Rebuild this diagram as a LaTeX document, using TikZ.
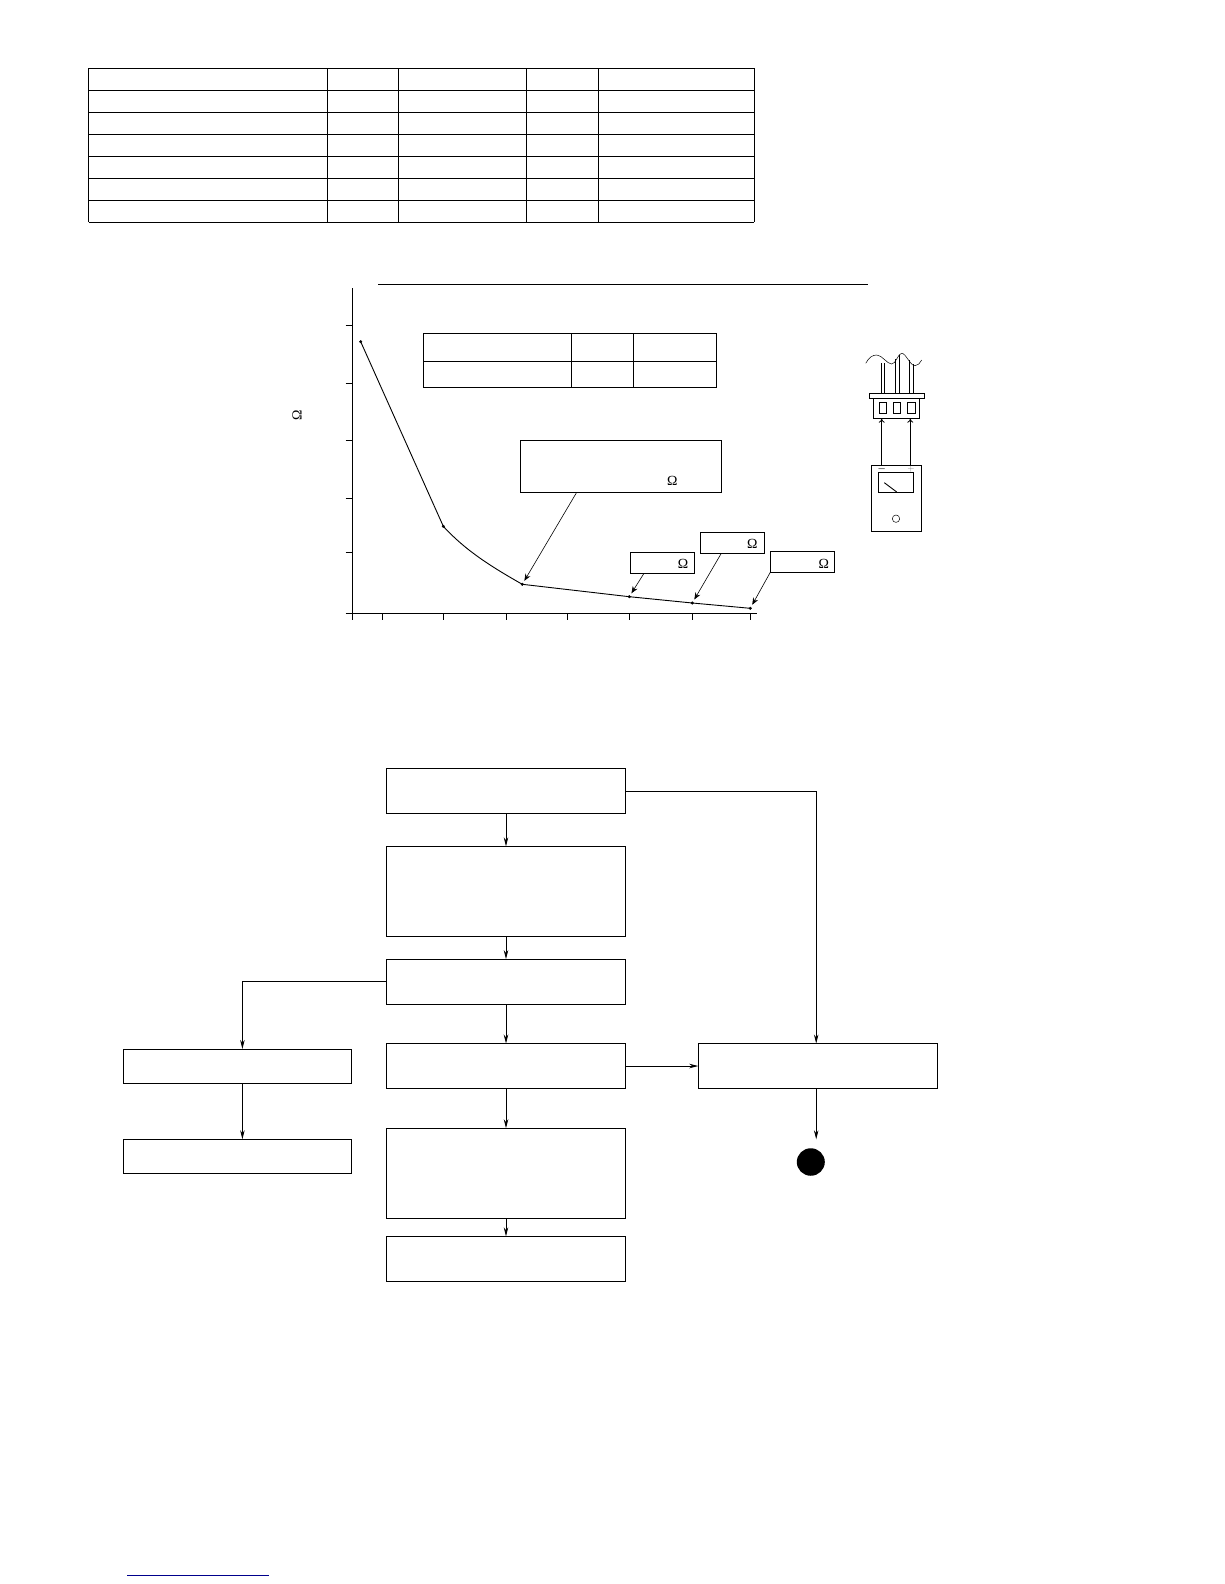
\documentclass[tikz,border=0pt]{standalone}
\usepackage{amssymb}
\usepackage{fontspec}
\newfontfamily\ohmfont{Liberation Serif}
\usetikzlibrary{arrows.meta,shapes.geometric}
\definecolor{linkblue}{rgb}{0,0,0.55}
\tikzset{
	flowbox/.style={draw=black, line width=0.9bp, inner sep=0pt, outer sep=0pt, minimum width=239bp, minimum height=45bp},
	tallbox/.style={flowbox, minimum height=90bp},
	sidebox/.style={flowbox, minimum width=228bp, minimum height=34.5bp},
	valuebox/.style={draw=black, line width=0.9bp, inner sep=0pt, outer sep=0pt, minimum width=64bp, minimum height=21bp},
	flowarrow/.style={black, line width=0.8bp, -{Stealth[length=9bp,width=4.5bp]}},
	callarrow/.style={black, line width=0.6bp, -{Stealth[length=7bp,width=5.5bp]}, shorten >=4bp},
	ohm/.style={inner sep=0pt, font=\ohmfont\fontsize{14}{14}\selectfont}
}
\begin{document}
\begin{tikzpicture}[x=1bp, y=-1bp]
	\useasboundingbox (0,0) rectangle (1224,1584);
	% table at the top
	\foreach \ypos in {68.5,90.5,112.5,134.5,156.5,178.5,200.5,222.3}
		\draw[black, line width=1bp] (88.5,\ypos) -- (754,\ypos);
	\foreach \xpos in {88.5,327,398,526,598,754}
		\draw[black, line width=1bp] (\xpos,68.5) -- (\xpos,222.3);
	% chart
	\draw[black, line width=0.9bp] (378.3,284.3) -- (867.8,284.3);
	\draw[black, line width=0.9bp] (352.3,288) -- (352.3,620);
	\draw[black, line width=0.9bp] (345.7,613.3) -- (757,613.3);
	\foreach \ypos in {325.3,383.3,440.3,498.3,552.3}
		\draw[black, line width=0.9bp] (345.7,\ypos) -- (352.3,\ypos);
	\foreach \xpos in {382.3,443.3,506.7,567.3,629.3,692.3,750.3}
		\draw[black, line width=0.9bp] (\xpos,613.3) -- (\xpos,620);
	\filldraw[black] (360.7,341.7) circle (1.3bp) coordinate (p1);
	\filldraw[black] (443.3,526.3) circle (1.3bp) coordinate (p2);
	\filldraw[black] (522.3,584.3) circle (1.3bp) coordinate (p3);
	\filldraw[black] (629.3,596.7) circle (1.3bp) coordinate (p4);
	\filldraw[black] (692.3,603) circle (1.3bp) coordinate (p5);
	\filldraw[black] (750.3,608.3) circle (1.3bp) coordinate (p6);
	\draw[black, line width=0.9bp] (p1) -- (p2) .. controls (465,550) and (490,566) .. (p3) -- (p4) -- (p5) -- (p6);
	\node[ohm, rotate=90] (yunit) at (297,415) {Ω};
	% small table in the chart
	\draw[black, line width=0.9bp] (423.3,333.3) rectangle (716.7,387.3);
	\draw[black, line width=0.9bp] (423.3,361.3) -- (716.7,361.3);
	\draw[black, line width=0.9bp] (571.3,333.3) -- (571.3,387.3);
	\draw[black, line width=0.9bp] (633.3,333.3) -- (633.3,387.3);
	% value boxes
	\node[valuebox, minimum width=201.4bp, minimum height=52bp] (mainvalue) at (621,466.3) {};
	\node[valuebox] (valuea) at (662.3,562.8) {};
	\node[valuebox] (valueb) at (732.6,542.8) {};
	\node[valuebox] (valuec) at (802.3,561.8) {};
	\node[ohm] (ohmmain) at (672.3,481.3) {Ω};
	\node[ohm] (ohma) at (683,564.3) {Ω};
	\node[ohm] (ohmb) at (752.3,544.3) {Ω};
	\node[ohm] (ohmc) at (823.7,564.3) {Ω};
	\draw[callarrow] ([xshift=-44.3bp]mainvalue.south) -- (p3);
	\draw[callarrow] ([xshift=-18.3bp]valuea.south) -- (p4);
	\draw[callarrow] ([xshift=-11.3bp]valueb.south) -- (p5);
	\draw[callarrow] (valuec.south west) -- (p6);
	% connector and meter
	\draw[black, line width=0.5bp] (865.7,363.3) .. controls (869,357) and (873,355) .. (876.7,355) .. controls (882,355) and (887,364) .. (891.7,364) .. controls (896,364) and (898,353.3) .. (901.7,353.3) .. controls (906,353.3) and (910,365.7) .. (915,365.7) .. controls (918,365.7) and (920,363) .. (921.7,360);
	\foreach \xpos/\ytop in {881.3/363,884.3/363,895.7/359,899.3/355,909.7/360,913.3/364}
		\draw[black, line width=0.7bp] (\xpos,\ytop) -- (\xpos,393.3);
	\draw[black, line width=0.9bp] (869.3,393.3) rectangle (924.7,398.7);
	\node[draw=black, line width=0.9bp, inner sep=0pt, outer sep=0pt, minimum width=46.4bp, minimum height=20bp] (plug) at (896.5,408.7) {};
	\foreach \xpos in {882.9,897,911.2}
		\draw[black, line width=0.9bp] (\xpos-3.8,402.3) rectangle (\xpos+3.8,413.3);
	\node[draw=black, line width=0.9bp, inner sep=0pt, outer sep=0pt, minimum width=50.4bp, minimum height=66bp] (meter) at (896.5,498.3) {};
	\draw[black, line width=0.9bp] (878.3,472.3) rectangle (913.7,492.7);
	\draw[black, line width=0.9bp] (884.3,482.7) -- (896.7,492);
	\draw[black, line width=0.5bp] (896,518.7) circle (3.7bp);
	\node[inner sep=0pt, font=\boldmath\fontsize{9}{9}\selectfont] (minus) at (881.7,468.8) {$-$};
	\node[inner sep=0pt, text=gray, font=\fontsize{9}{9}\selectfont] (plus) at (911,468.8) {$+$};
	\draw[black, line width=0.8bp, -{To[length=4bp,width=6bp]}] ([xshift=-14.8bp]meter.north) -- ([xshift=-14.8bp]plug.south);
	\draw[black, line width=0.8bp, -{To[length=4bp,width=6bp]}] ([xshift=13.8bp]meter.north) -- ([xshift=13.8bp]plug.south);
	% flow chart
	\node[flowbox] (boxa) at (506,790.8) {};
	\node[tallbox] (boxb) at (506,891.3) {};
	\node[flowbox] (boxc) at (506,981.6) {};
	\node[flowbox] (boxd) at (506,1066) {};
	\node[tallbox] (boxe) at (506,1173.2) {};
	\node[flowbox] (boxf) at (506,1258.8) {};
	\node[sidebox] (lefta) at (237.3,1066.2) {};
	\node[sidebox] (leftb) at (237.3,1156.5) {};
	\node[flowbox] (rightbox) at (817.7,1066) {};
	\node[fill=black, ellipse, inner sep=0pt, minimum width=28bp, minimum height=27.5bp] (stop) at (810.8,1162) {};
	\coordinate (stopend) at (816.2,1139.3);
	\draw[flowarrow] (boxa) -- (boxb);
	\draw[flowarrow] (boxb) -- (boxc);
	\draw[flowarrow] (boxc) -- (boxd);
	\draw[flowarrow] (boxd) -- (boxe);
	\draw[flowarrow] (boxe) -- (boxf);
	\draw[flowarrow] (boxd) -- (rightbox);
	\draw[flowarrow] ([yshift=-0.6bp]boxa.east) -| ([xshift=-1.5bp]rightbox.north);
	\draw[flowarrow] (boxc.west) -| ([xshift=5.1bp]lefta.north);
	\draw[flowarrow] ([xshift=5.1bp]lefta.south) -- ([xshift=5.1bp]leftb.north);
	\draw[flowarrow] ([xshift=-1.5bp]rightbox.south) -- (stopend);
	% rule at the foot of the page
	\draw[linkblue, line width=1bp] (127,1575) -- (269,1575);
\end{tikzpicture}
\end{document}
